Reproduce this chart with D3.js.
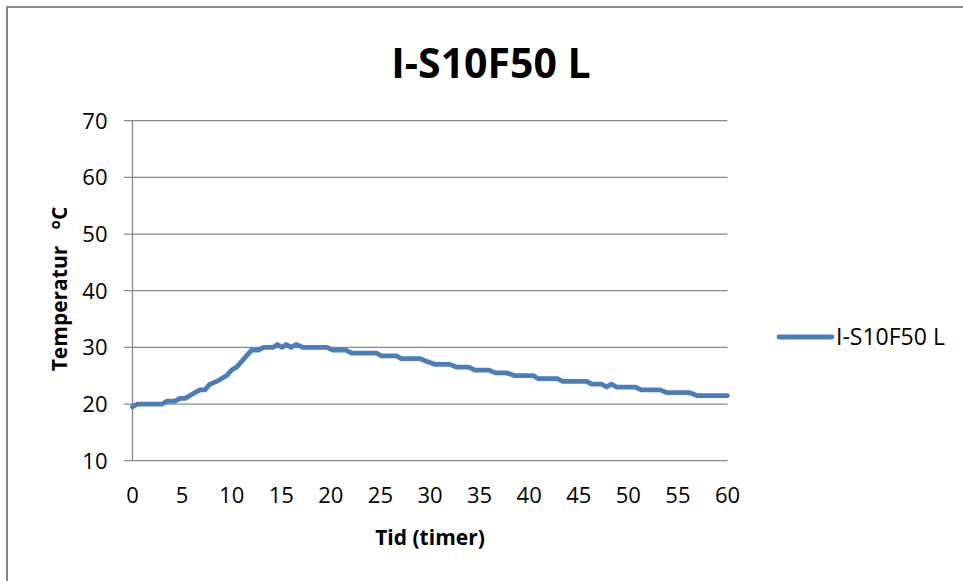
<!DOCTYPE html>
<html><head><meta charset="utf-8">
<script src="https://cdn.jsdelivr.net/npm/d3@7"></script>
<style>
html,body{margin:0;padding:0;background:#fff;}
svg{display:block;}
text{font-family:"Open Sans",sans-serif;fill:#000;}
</style></head>
<body>
<script>
const chartTitle = "I-S10F50 L";
const seriesName = "I-S10F50 L";
const xTitle = "Tid (timer)";
const yTitle = "Temperatur";
const hours = [0,0.5,3,3.5,4.3,4.8,5.3,5.8,6.3,6.8,7.3,7.8,8.5,9,9.5,10,10.5,11,11.5,12,12.7,13.2,14.2,14.6,15.1,15.5,16,16.5,17.2,19.6,20.2,21.5,22.1,24.6,25.1,26.6,27.1,29,29.7,30.5,32,32.7,33.9,34.5,35.9,36.6,37.7,38.6,40.4,40.9,42.8,43.4,45.8,46.3,47.3,47.8,48.3,48.8,50.7,51.3,53.2,53.9,56.2,56.9,60];
const temps = [19.5,20,20,20.5,20.5,21,21,21.5,22,22.5,22.5,23.5,24,24.5,25,26,26.5,27.5,28.5,29.5,29.5,30,30,30.5,30,30.5,30,30.5,30,30,29.5,29.5,29,29,28.5,28.5,28,28,27.5,27,27,26.5,26.5,26,26,25.5,25.5,25,25,24.5,24.5,24,24,23.5,23.5,23,23.5,23,23,22.5,22.5,22,22,21.5,21.5];
const xTicks = [0,5,10,15,20,25,30,35,40,45,50,55,60];
const yTicks = [10,20,30,40,50,60,70];

const W = 963, H = 581;
const svg = d3.select("body").append("svg").attr("width", W).attr("height", H);
svg.append("rect").attr("x",0).attr("y",0).attr("width",W).attr("height",H).attr("fill","#fff");
svg.append("rect").attr("x",7).attr("y",7).attr("width",1000).attr("height",700)
  .attr("fill","none").attr("stroke","#878787").attr("stroke-width",2);

const x = d3.scaleLinear().domain([0,60]).range([132.5,727.5]);
const y = d3.scaleLinear().domain([10,70]).range([460.7,120.7]);

// gridlines
const grid = svg.append("g").attr("class","grid");
grid.selectAll("line").data(yTicks).join("line")
  .attr("x1", 124).attr("x2", x(60))
  .attr("y1", d=>y(d)).attr("y2", d=>y(d))
  .attr("stroke","#888").attr("stroke-width",1.3);
// y axis line
svg.append("line").attr("x1",x(0)).attr("x2",x(0)).attr("y1",y(70)).attr("y2",y(10))
  .attr("stroke","#888").attr("stroke-width",1.3);

// y tick labels
svg.append("g").selectAll("text").data(yTicks).join("text")
  .attr("x",107.5).attr("y",d=>y(d)).attr("dy","0.36em")
  .attr("text-anchor","end").style("font-size","22px").text(d=>d);
// x tick labels
svg.append("g").selectAll("text").data(xTicks).join("text")
  .attr("x",d=>x(d)).attr("y",503)
  .attr("text-anchor","middle").style("font-size","22px").text(d=>d);

// line
const data = hours.map((h,i)=>({h, t: temps[i]}));
svg.append("path").datum(data)
  .attr("d", d3.line().x(d=>x(d.h)).y(d=>y(d.t)))
  .attr("fill","none").attr("stroke","#4a7ebb").attr("stroke-width",4.8)
  .attr("stroke-linejoin","round").attr("stroke-linecap","round");

// title
svg.append("text").attr("x",491).attr("y",78).attr("text-anchor","middle")
  .style("font-size","41px").style("font-weight","700").text(chartTitle);

// x title
svg.append("text").attr("x",430).attr("y",545).attr("text-anchor","middle")
  .style("font-size","21px").style("font-weight","700").text(xTitle);

// y title
const yt = svg.append("text").attr("transform","translate(67,289) rotate(-90)")
  .attr("text-anchor","middle").style("font-size","21px").style("font-weight","700");
yt.append("tspan").text(yTitle + "\u00a0\u00a0\u00a0");
yt.append("tspan").attr("dy",-7).style("font-size","15px").text("o");
yt.append("tspan").attr("dy",7).text("C");

// legend
svg.append("line").attr("x1",779).attr("x2",832).attr("y1",337).attr("y2",337)
  .attr("stroke","#4a7ebb").attr("stroke-width",4.8).attr("stroke-linecap","round");
svg.append("text").attr("x",836).attr("y",337).attr("dy","0.36em")
  .style("font-size","23px").text(seriesName);
</script>
</body></html>
